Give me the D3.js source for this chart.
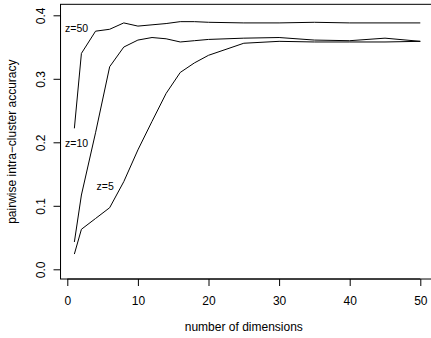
<!DOCTYPE html>
<html>
<head>
<meta charset="utf-8">
<script src="https://cdn.jsdelivr.net/npm/d3@7"></script>
<style>
  body { margin: 0; background: #fff; }
  text { font-family: "Liberation Sans", Arial, sans-serif; fill: #000; }
</style>
</head>
<body>
<div id="chart"></div>
<script>
"use strict";
// number of dimensions
var dims = [1, 2, 4, 6, 8, 10, 12, 14, 16, 18, 20, 25, 30, 35, 40, 45, 50];
// accuracy per z
var z50 = [0.222, 0.340, 0.375, 0.378, 0.388, 0.383, 0.385, 0.387, 0.390, 0.390, 0.389, 0.388, 0.388, 0.389, 0.388, 0.388, 0.388];
var z10 = [0.043, 0.117, 0.215, 0.319, 0.350, 0.361, 0.365, 0.363, 0.358, 0.360, 0.362, 0.364, 0.365, 0.361, 0.360, 0.364, 0.359];
var z5 = [0.024, 0.063, 0.080, 0.097, 0.138, 0.188, 0.233, 0.277, 0.310, 0.325, 0.337, 0.356, 0.359, 0.358, 0.358, 0.358, 0.359];
var seriesNames = ["z=50", "z=10", "z=5"];
var xTicks = [0, 10, 20, 30, 40, 50];
var yTicks = [0.0, 0.1, 0.2, 0.3, 0.4];

var width = 431, height = 338;
var svg = d3.select("#chart").append("svg")
    .attr("width", width)
    .attr("height", height);

var x = d3.scaleLinear().domain([0, 50]).range([67.3, 420.3]);
var y = d3.scaleLinear().domain([0, 0.4]).range([269.3, 15.3]);

var boxLeft = x(-0.96), boxRight = x(51.96);
var boxTop = y(0.4173), boxBottom = y(-0.0153);

// plot box
svg.append("rect")
    .attr("x", boxLeft).attr("y", boxTop)
    .attr("width", boxRight - boxLeft).attr("height", boxBottom - boxTop)
    .attr("fill", "none").attr("stroke", "#000").attr("stroke-width", 1);

// x axis
var xAxis = d3.axisBottom(x).tickValues(xTicks).tickSize(7).tickPadding(10)
    .tickFormat(d3.format("d"));
var gx = svg.append("g").attr("transform", "translate(0," + boxBottom + ")").call(xAxis);
gx.select(".domain").attr("d", "M" + x(0) + ",0H" + x(50)).attr("stroke", "#000");
gx.selectAll("text").style("font-size", "12px").attr("font-family", null);

// y axis
var yAxis = d3.axisLeft(y).tickValues(yTicks).tickSize(7).tickPadding(8)
    .tickFormat(d3.format(".1f"));
var gy = svg.append("g").attr("transform", "translate(" + boxLeft + ",0)").call(yAxis);
gy.select(".domain").attr("d", "M0," + y(0) + "V" + y(0.4)).attr("stroke", "#000");
gy.selectAll("text")
    .style("font-size", "12px")
    .attr("font-family", null)
    .attr("x", 0)
    .attr("y", 0)
    .attr("dy", null)
    .attr("transform", "translate(-16,0) rotate(-90)")
    .attr("text-anchor", "middle");

// axis titles
svg.append("text")
    .attr("x", x(25)).attr("y", 331)
    .attr("text-anchor", "middle")
    .style("font-size", "12px")
    .text("number of dimensions");
svg.append("text")
    .attr("transform", "translate(16," + ((boxTop + boxBottom) / 2) + ") rotate(-90)")
    .attr("text-anchor", "middle")
    .style("font-size", "12px")
    .text("pairwise intra\u2212cluster accuracy");

// lines
var line = d3.line()
    .x(function (d) { return x(d[0]); })
    .y(function (d) { return y(d[1]); });
[z50, z10, z5].forEach(function (vals) {
    svg.append("path")
        .datum(dims.map(function (d, i) { return [d, vals[i]]; }))
        .attr("d", line)
        .attr("fill", "none")
        .attr("stroke", "#000")
        .attr("stroke-width", 1);
});

// curve labels
var labelPos = [[65, 31.5], [65, 146.5], [96.5, 190]];
seriesNames.forEach(function (n, i) {
    svg.append("text")
        .attr("x", labelPos[i][0]).attr("y", labelPos[i][1])
        .style("font-size", "10.5px")
        .text(n);
});
</script>
</body>
</html>
